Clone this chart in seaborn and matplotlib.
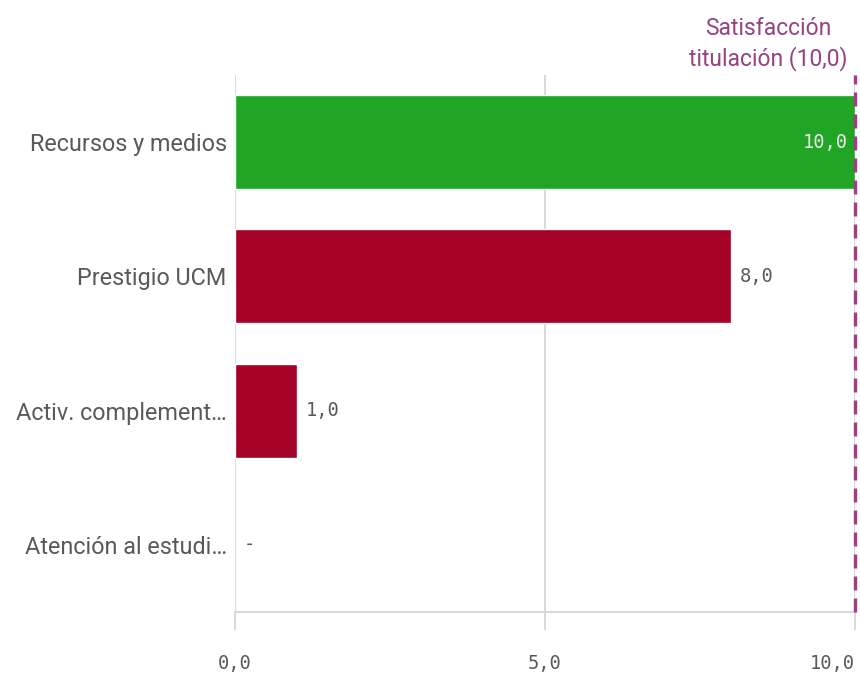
import numpy as np
import pandas as pd
import matplotlib
matplotlib.use("Agg")
import matplotlib.pyplot as plt
import seaborn as sns

categories = ["Recursos y medios", "Prestigio UCM", "Activ. complement…", "Atención al estudi…"]
values = [10.0, 8.0, 1.0, np.nan]
bar_colors = ["#21a524", "#a50026", "#a50026", "#a50026"]
x_ticks = [0, 5, 10]
x_tick_labels = ["0,0", "5,0", "10,0"]
reference_value = 10.0
reference_label = "Satisfacción\ntitulación (10,0)"

sns.set_theme(style="white")
plt.rcParams["font.family"] = ["Roboto", "DejaVu Sans"]

df = pd.DataFrame({"cat": categories, "val": values})

fig = plt.figure(figsize=(8.6, 6.78), dpi=100)
ax = fig.add_axes([235/860, 1-612/678, 620/860, 537/678])

sns.barplot(data=df, x="val", y="cat", hue="cat", order=categories, hue_order=categories,
            palette=bar_colors, legend=False, width=0.70, ax=ax, saturation=1, orient="h")

ax.set_xlim(0, 10)
ax.set_ylim(3.5, -0.5)
ax.set_xlabel("")
ax.set_ylabel("")
ax.set_xticks(x_ticks)
ax.set_xticklabels(x_tick_labels, family="DejaVu Sans Mono", fontsize=13.5, color="#595959")
ax.get_xticklabels()[-1].set_horizontalalignment("right")
ax.tick_params(axis="x", length=13, width=1.3, color="#d5d5d5", pad=17, bottom=True)
ax.tick_params(axis="y", length=0, pad=6, labelsize=16.8, labelcolor="#595959")
for s in ["top", "right", "left"]:
    ax.spines[s].set_visible(False)
ax.spines["bottom"].set_color("#d5d5d5")
ax.spines["bottom"].set_linewidth(1.3)
ax.set_axisbelow(True)
ax.grid(False)
for t in x_ticks:
    ax.axvline(t, color="#d5d5d5", lw=1.3, zorder=0)

# value labels
for i, v in enumerate(values):
    if np.isnan(v):
        ax.annotate("-", (0, i), xytext=(6, 0), textcoords="offset points",
                    va="center", ha="left", family="DejaVu Sans Mono", fontsize=13.5, color="#595959")
    elif v >= 9.5:
        ax.annotate(f"{v:.1f}".replace(".", ","), (v, i), xytext=(-5, 0), textcoords="offset points",
                    va="center", ha="right", family="DejaVu Sans Mono", fontsize=13.5, color="#eaeaea")
    else:
        ax.annotate(f"{v:.1f}".replace(".", ","), (v, i), xytext=(6, 0), textcoords="offset points",
                    va="center", ha="left", family="DejaVu Sans Mono", fontsize=13.5, color="#595959")

ax.axvline(reference_value, color="#96437f", lw=2.4, ls=(0, (4.2, 2.4)), clip_on=False, zorder=5)
fig.text(768/860, 1-44/678, reference_label, ha="center", va="center", multialignment="center",
         fontsize=16.5, color="#96437f", linespacing=1.3)

fig.savefig("out.png", dpi=100, facecolor="white")
